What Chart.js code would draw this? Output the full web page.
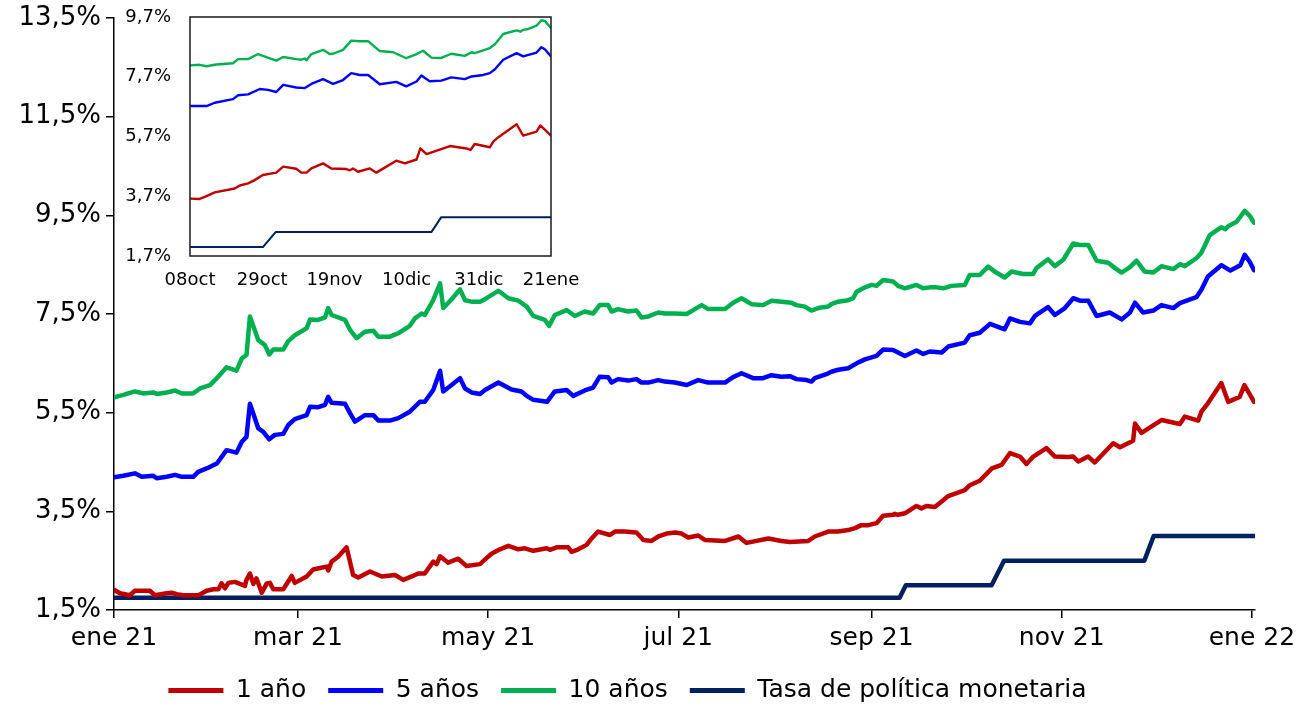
<!DOCTYPE html>
<html>
<head>
<meta charset="utf-8">
<script src="https://cdn.jsdelivr.net/npm/chart.js@4.4.1/dist/chart.umd.min.js"></script>
<style>
  body { margin: 0; background: #fff; }
  #wrap { position: relative; width: 1310px; height: 705px; }
  #main_chart { position: absolute; left: 0; top: 0; }
  #inset_chart { position: absolute; left: 100px; top: 0; }
</style>
</head>
<body>
<div id="wrap">
  <canvas id="main_chart" width="1310" height="705"></canvas>
  <canvas id="inset_chart" width="485" height="300"></canvas>
</div>
<script>
// main chart: x = days since start of axis (ene 21 = 0, ene 22 = 365)
var monthTicks = [0, 59, 120, 181, 243, 304, 365];
var monthLabels = ["ene 21", "mar 21", "may 21", "jul 21", "sep 21", "nov 21", "ene 22"];
var yTicks = [1.5, 3.5, 5.5, 7.5, 9.5, 11.5, 13.5];

var oneYearDays = [0, 1.9, 5.1, 6.7, 9.9, 11.5, 13.1, 16.9, 18.5, 20.1, 22.2, 27.1, 29.7, 31.9, 33.5, 34.5, 35.6, 36.7, 38.8, 40.4,
    42, 42.5, 43.6, 44.7, 45.7, 47.4, 49, 50, 51.1, 54.3, 57, 58, 61.8, 63.9, 66.1, 68.2, 68.7, 69.8, 71.9, 74.6,
    76.7, 78.4, 82.1, 85.9, 90.1, 92.8, 95.5, 97.6, 99.7, 102.4, 103.5, 104.6, 107.2, 110.4, 113.1, 117.4, 119.5, 121.1, 123.8, 126.5,
    129.7, 131.8, 134.5, 138.8, 139.8, 142, 145.7, 146.8, 148.9, 151.6, 153.2, 155.3, 159.1, 160.7, 163.9, 167.6, 169.8, 172.4, 174.6, 177.3,
    180, 182, 184.2, 187.4, 189.5, 196, 200.3, 202.9, 209.9, 214.1, 216.8, 222.7, 224.8, 229.1, 232.3, 235.5, 237.7, 239.7, 242, 244.6,
    246.7, 249.9, 250.5, 251.5, 253.7, 257.4, 259, 260.6, 263.3, 265.5, 267.6, 272.9, 274.5, 277.7, 281.6, 284.7, 287.4, 290.6, 292.7, 294.9,
    299.1, 301.8, 306.1, 307.7, 309.3, 312.5, 314.6, 320.5, 322.7, 326.9, 327.5, 329.6, 336, 341.9, 343.5, 347.8, 348.8, 350.9, 355.2, 357.4,
    361.1, 362.6, 365.7];
var oneYearValues = [1.91, 1.84, 1.80, 1.89, 1.89, 1.89, 1.80, 1.84, 1.85, 1.82, 1.80, 1.80, 1.89, 1.92, 1.92, 2.04, 1.94, 2.05, 2.07, 2.03,
    1.99, 2.11, 2.24, 2.03, 2.14, 1.85, 2.04, 2.05, 1.92, 1.92, 2.19, 2.05, 2.18, 2.32, 2.35, 2.38, 2.30, 2.48, 2.58, 2.77,
    2.21, 2.16, 2.28, 2.18, 2.21, 2.11, 2.18, 2.24, 2.24, 2.48, 2.43, 2.59, 2.46, 2.54, 2.39, 2.43, 2.55, 2.64, 2.73, 2.80,
    2.73, 2.75, 2.70, 2.75, 2.72, 2.77, 2.77, 2.68, 2.73, 2.82, 2.95, 3.09, 3.02, 3.09, 3.09, 3.07, 2.92, 2.90, 2.99, 3.05,
    3.07, 3.05, 2.97, 3.01, 2.92, 2.90, 2.99, 2.86, 2.95, 2.90, 2.88, 2.90, 2.99, 3.09, 3.09, 3.12, 3.16, 3.22, 3.22, 3.26,
    3.41, 3.43, 3.45, 3.43, 3.46, 3.61, 3.56, 3.61, 3.59, 3.70, 3.81, 3.93, 4.03, 4.12, 4.37, 4.44, 4.68, 4.61, 4.46, 4.61,
    4.78, 4.61, 4.60, 4.61, 4.51, 4.61, 4.49, 4.88, 4.80, 4.93, 5.28, 5.09, 5.35, 5.27, 5.42, 5.34, 5.52, 5.69, 6.10, 5.72,
    5.82, 6.06, 5.72];

var fiveYearDays = [0, 3, 6.7, 8.9, 12.6, 13.7, 16.9, 19.6, 21.7, 25.4, 27, 29.7, 33, 36.1, 39.3, 41, 42.5, 43.6, 46.3, 47.9,
    49.8, 51.6, 54.3, 55.9, 58, 61.8, 62.9, 65.5, 67.7, 68.7, 69.8, 74.1, 75.7, 77.3, 80.5, 83.2, 84.8, 88.5, 91.2, 94.9,
    96.5, 98.1, 99.7, 102.4, 104.6, 105.6, 108.3, 111, 112.6, 114.7, 117.4, 119, 123.3, 127.5, 130.7, 132.4, 134.5, 138.9, 141.4, 145.2,
    147.3, 151, 153.7, 155.8, 158.5, 159.6, 161.7, 164.9, 167.6, 169.2, 171.4, 174.6, 176.7, 179.9, 183.7, 187.4, 190.6, 196, 198.6, 201.3,
    205, 208.2, 210.9, 214.1, 216.8, 218.9, 222.2, 223.7, 224.8, 228.5, 230.1, 232.3, 235.5, 238.2, 240.9, 244.6, 246.7, 249.9, 253.7, 257.4,
    259.6, 261.7, 265.5, 267.6, 272.9, 274.5, 277.7, 281, 285.7, 287.4, 290.6, 293.8, 295.4, 299.6, 301.8, 305, 307.7, 309.8, 312.5, 315.2,
    319.4, 323.2, 325.9, 327.5, 330.1, 333.4, 336, 339.8, 341.9, 347.2, 348.8, 350.9, 355.2, 358.1, 361.3, 362.7, 364.3, 365.7];
var fiveYearValues = [4.19, 4.22, 4.27, 4.20, 4.22, 4.17, 4.20, 4.24, 4.20, 4.20, 4.30, 4.37, 4.47, 4.74, 4.69, 4.91, 5.01, 5.68, 5.18, 5.11,
    4.96, 5.05, 5.07, 5.25, 5.37, 5.45, 5.62, 5.61, 5.66, 5.82, 5.70, 5.68, 5.49, 5.32, 5.45, 5.45, 5.34, 5.34, 5.39, 5.52,
    5.62, 5.72, 5.72, 5.96, 6.35, 5.93, 6.06, 6.20, 5.99, 5.91, 5.88, 5.96, 6.11, 5.97, 5.93, 5.84, 5.76, 5.72, 5.93, 5.96,
    5.84, 5.95, 6.01, 6.23, 6.22, 6.11, 6.18, 6.15, 6.18, 6.11, 6.11, 6.16, 6.13, 6.11, 6.06, 6.16, 6.11, 6.11, 6.22, 6.30,
    6.20, 6.20, 6.26, 6.23, 6.24, 6.18, 6.16, 6.13, 6.20, 6.28, 6.33, 6.37, 6.40, 6.50, 6.58, 6.65, 6.78, 6.77, 6.65, 6.76,
    6.69, 6.74, 6.72, 6.84, 6.92, 7.07, 7.12, 7.30, 7.19, 7.41, 7.34, 7.31, 7.46, 7.64, 7.48, 7.62, 7.82, 7.77, 7.77, 7.46,
    7.53, 7.39, 7.53, 7.73, 7.53, 7.57, 7.68, 7.62, 7.72, 7.84, 7.99, 8.26, 8.49, 8.38, 8.49, 8.70, 8.56, 8.39];

var tenYearDays = [0, 3, 6.7, 9.4, 12.6, 13.7, 16.9, 19.6, 21.7, 25.4, 27.6, 30.8, 33, 36.1, 39.3, 41, 42.5, 43.6, 46.3, 48.4,
    49.8, 51.1, 54.3, 55.9, 58, 61.8, 62.9, 65.5, 67.7, 68.7, 69.8, 74.1, 75.7, 77.8, 80.5, 83.2, 84.8, 88.5, 91.2, 94.9,
    96.5, 98.7, 99.7, 102.4, 104.6, 105.6, 108.3, 111, 112.6, 114.7, 117.4, 119, 123.3, 126.5, 129.7, 132.4, 134.5, 138.2, 139.6, 141.4,
    145.2, 147.8, 151, 153.7, 155.8, 158.5, 159.6, 161.7, 164.9, 167.6, 169.2, 171.4, 174.6, 176.7, 179.9, 183.7, 185.8, 188.5, 190.6, 196,
    198.6, 201.3, 204.5, 208.2, 210.9, 214.1, 217.3, 218.9, 221.6, 223.7, 225.9, 229.1, 230.1, 232.3, 235.5, 237.1, 238.2, 240.9, 243, 244.6,
    246.7, 249.9, 251.5, 253.7, 257.4, 259.6, 261.7, 263.8, 266, 268.6, 272.9, 274.5, 277.7, 280.4, 283, 285.7, 287.9, 291.6, 294.8, 295.9,
    299.6, 301.8, 304.5, 307.7, 309.8, 312.5, 315.2, 318.9, 321.1, 323.2, 325.9, 328, 330.6, 333.4, 336, 339.8, 341.9, 343.5, 347.2, 348.8,
    351.5, 355.2, 356.5, 357.4, 360.1, 362.7, 364.3, 365.7];
var tenYearValues = [5.81, 5.86, 5.93, 5.89, 5.91, 5.88, 5.91, 5.95, 5.89, 5.89, 5.99, 6.06, 6.20, 6.42, 6.35, 6.60, 6.67, 7.45, 6.97, 6.87,
    6.68, 6.78, 6.78, 6.95, 7.07, 7.21, 7.39, 7.38, 7.43, 7.62, 7.48, 7.38, 7.18, 7.01, 7.14, 7.16, 7.04, 7.04, 7.11, 7.26,
    7.41, 7.51, 7.48, 7.78, 8.12, 7.62, 7.80, 8.00, 7.78, 7.75, 7.75, 7.80, 7.97, 7.82, 7.77, 7.65, 7.46, 7.38, 7.26, 7.48,
    7.58, 7.46, 7.55, 7.51, 7.68, 7.68, 7.55, 7.60, 7.55, 7.57, 7.43, 7.45, 7.53, 7.51, 7.51, 7.50, 7.58, 7.68, 7.60, 7.60,
    7.73, 7.82, 7.70, 7.68, 7.77, 7.75, 7.73, 7.68, 7.65, 7.57, 7.62, 7.65, 7.70, 7.75, 7.78, 7.82, 7.95, 8.04, 8.09, 8.07,
    8.19, 8.16, 8.07, 8.02, 8.09, 8.02, 8.04, 8.04, 8.02, 8.07, 8.09, 8.29, 8.29, 8.46, 8.34, 8.24, 8.36, 8.31, 8.31, 8.43,
    8.61, 8.47, 8.60, 8.93, 8.90, 8.90, 8.58, 8.54, 8.43, 8.34, 8.45, 8.58, 8.36, 8.34, 8.47, 8.41, 8.51, 8.47, 8.63, 8.74,
    9.10, 9.26, 9.22, 9.28, 9.37, 9.59, 9.49, 9.35];

var tpmDays = [0, 252, 254, 281.5, 285.5, 330.5, 333.5, 366];
var tpmValues = [1.75, 1.75, 2.0, 2.0, 2.5, 2.5, 3.0, 3.0];

// inset: x = days since 08oct
var insetTicks = [0, 21, 42, 63, 84, 105];
var insetLabels = ["08oct", "29oct", "19nov", "10dic", "31dic", "21ene"];
var insetYTicks = [1.7, 3.7, 5.7, 7.7, 9.7];

var insetOneDays = [0, 2.8, 4.3, 7.2, 13, 14.5, 16.9, 18.8, 21.2, 25.1, 27.1, 30.9, 32.4, 33.9, 35.3, 38.7, 41.1, 45.5, 46.5, 47.4,
    48.9, 52.3, 54.2, 60, 62.5, 65.9, 67, 68.8, 75.6, 80.4, 81.6, 82.8, 87.2, 88.2, 89.6, 95, 96.9, 100.8, 101.9, 105];
var insetOneValues = [3.62, 3.61, 3.68, 3.83, 3.96, 4.06, 4.13, 4.24, 4.41, 4.49, 4.69, 4.62, 4.49, 4.49, 4.63, 4.80, 4.63, 4.61, 4.57, 4.63,
    4.52, 4.63, 4.49, 4.89, 4.80, 4.93, 5.30, 5.11, 5.38, 5.30, 5.25, 5.45, 5.34, 5.53, 5.67, 6.11, 5.73, 5.86, 6.07, 5.73];

var insetFiveDays = [0, 2.8, 4.8, 7.2, 12.5, 14, 16.9, 20.3, 22.7, 25.1, 27.1, 30.9, 33.4, 35.3, 38.7, 41.6, 44.5, 46.9, 49.4, 51.8,
    55.2, 60, 62.9, 65.9, 67.3, 69.7, 73.1, 76, 79.9, 81.9, 85.3, 87.2, 88.7, 91.1, 95, 96.9, 100.8, 102.2, 103.2, 105];
var insetFiveValues = [6.72, 6.72, 6.72, 6.83, 6.95, 7.08, 7.11, 7.29, 7.26, 7.19, 7.43, 7.34, 7.32, 7.46, 7.62, 7.46, 7.59, 7.82, 7.76, 7.76,
    7.45, 7.53, 7.38, 7.54, 7.74, 7.55, 7.57, 7.68, 7.62, 7.71, 7.76, 7.82, 7.95, 8.27, 8.49, 8.38, 8.51, 8.69, 8.62, 8.38];

var insetTenDays = [0, 2.8, 4.8, 7.7, 12.5, 14, 16.9, 19.8, 22.2, 25.1, 27.1, 30.9, 32.4, 33.4, 33.9, 35.3, 38.7, 40.6, 41.6, 44.5,
    46.9, 49.4, 51.8, 55.2, 59.1, 62.9, 65.9, 67.8, 70.2, 73.1, 76, 79.9, 81.9, 82.8, 85.3, 87.2, 88.7, 91.1, 95, 96.1,
    96.9, 98.4, 100.8, 102.2, 103.2, 105];
var insetTenValues = [8.08, 8.10, 8.05, 8.11, 8.15, 8.29, 8.29, 8.46, 8.36, 8.24, 8.36, 8.29, 8.27, 8.31, 8.25, 8.46, 8.60, 8.46, 8.47, 8.60,
    8.91, 8.89, 8.89, 8.56, 8.52, 8.32, 8.46, 8.57, 8.34, 8.33, 8.47, 8.40, 8.52, 8.49, 8.58, 8.66, 8.79, 9.13, 9.25, 9.21,
    9.27, 9.30, 9.41, 9.59, 9.57, 9.33];

var insetTpmDays = [0, 21.2, 24.9, 70.2, 73.1, 105];
var insetTpmValues = [2.0, 2.0, 2.5, 2.5, 3.0, 3.0];

var RED = "#C00000", BLUE = "#0000FF", GREEN = "#00B050", NAVY = "#002060";

function toPoints(xs, ys) {
    return xs.map(function (x, i) { return {x: x, y: ys[i]}; });
}

function pct(v) {
    return v.toFixed(1).replace(".", ",") + "%";
}

function lineSet(label, xs, ys, color, width) {
    return {
        label: label,
        data: toPoints(xs, ys),
        borderColor: color,
        backgroundColor: color,
        borderWidth: width,
        pointRadius: 0,
        tension: 0,
        borderJoinStyle: "round",
        borderCapStyle: "round"
    };
}

// keep label overhang from pushing the plot area around, layout.padding decides
function noPadX(axis) { axis.paddingLeft = 0; axis.paddingRight = 0; }
function noPadY(axis) { axis.paddingTop = 0; axis.paddingBottom = 0; }

var mainFont = {family: "DejaVu Sans", size: 25};
var yFont = {family: "DejaVu Sans", size: 26};

var chart = new Chart(document.getElementById("main_chart").getContext("2d"), {
    type: "line",
    data: {
        datasets: [
            lineSet("1 año", oneYearDays, oneYearValues, RED, 4.5),
            lineSet("5 años", fiveYearDays, fiveYearValues, BLUE, 4.5),
            lineSet("10 años", tenYearDays, tenYearValues, GREEN, 4.5),
            lineSet("Tasa de política monetaria", tpmDays, tpmValues, NAVY, 4.5)
        ]
    },
    options: {
        responsive: false,
        animation: false,
        devicePixelRatio: 1,
        layout: {padding: {left: 0, right: 55, top: 18, bottom: -8}},
        scales: {
            x: {
                type: "linear",
                min: 0,
                max: 366,
                afterBuildTicks: function (axis) {
                    axis.ticks = monthTicks.map(function (v) { return {value: v}; });
                },
                afterFit: function (axis) { axis.height = 46; noPadX(axis); },
                ticks: {
                    callback: function (v) { return monthLabels[monthTicks.indexOf(v)]; },
                    autoSkip: false,
                    maxRotation: 0,
                    padding: 5,
                    color: "#000",
                    font: mainFont
                },
                grid: {drawOnChartArea: false, drawTicks: true, tickLength: 8, color: "#000", lineWidth: 1.5},
                border: {display: true, color: "#000", width: 1.5}
            },
            y: {
                min: 1.5,
                max: 13.5,
                afterBuildTicks: function (axis) {
                    axis.ticks = yTicks.map(function (v) { return {value: v}; });
                },
                afterFit: function (axis) { axis.width = 114; noPadY(axis); },
                ticks: {
                    callback: function (v) { return pct(v); },
                    padding: 5,
                    color: "#000",
                    font: yFont
                },
                grid: {drawOnChartArea: false, drawTicks: true, tickLength: 8, color: "#000", lineWidth: 1.5},
                border: {display: true, color: "#000", width: 1.5}
            }
        },
        plugins: {
            legend: {
                position: "bottom",
                labels: {
                    boxWidth: 55,
                    boxHeight: 5,
                    padding: 22,
                    color: "#000",
                    font: mainFont,
                    generateLabels: function (c) {
                        return Chart.defaults.plugins.legend.labels.generateLabels(c).map(function (item) {
                            item.lineWidth = 0;
                            return item;
                        });
                    }
                }
            },
            tooltip: {enabled: false}
        }
    }
});

// thin frame round the inset plot area
var insetFrame = {
    id: "insetFrame",
    afterDraw: function (c) {
        var a = c.chartArea, ctx = c.ctx;
        ctx.save();
        ctx.strokeStyle = "#1a1a1a";
        ctx.lineWidth = 1.5;
        ctx.strokeRect(a.left, a.top, a.right - a.left, a.bottom - a.top);
        ctx.restore();
    }
};

var insetFont = {family: "DejaVu Sans", size: 18};

var inset = new Chart(document.getElementById("inset_chart").getContext("2d"), {
    type: "line",
    data: {
        datasets: [
            lineSet("1 año", insetOneDays, insetOneValues, RED, 2.4),
            lineSet("5 años", insetFiveDays, insetFiveValues, BLUE, 2.4),
            lineSet("10 años", insetTenDays, insetTenValues, GREEN, 2.4),
            lineSet("TPM", insetTpmDays, insetTpmValues, NAVY, 2)
        ]
    },
    options: {
        responsive: false,
        animation: false,
        devicePixelRatio: 1,
        layout: {padding: {left: 0, right: 34, top: 17, bottom: 0}},
        scales: {
            x: {
                type: "linear",
                min: 0,
                max: 105,
                afterBuildTicks: function (axis) {
                    axis.ticks = insetTicks.map(function (v) { return {value: v}; });
                },
                afterFit: function (axis) { axis.height = 44; noPadX(axis); },
                ticks: {
                    callback: function (v) { return insetLabels[insetTicks.indexOf(v)]; },
                    autoSkip: false,
                    maxRotation: 0,
                    padding: 6,
                    color: "#000",
                    font: insetFont
                },
                grid: {display: false},
                border: {display: false}
            },
            y: {
                min: 1.7,
                max: 9.7,
                afterBuildTicks: function (axis) {
                    axis.ticks = insetYTicks.map(function (v) { return {value: v}; });
                },
                afterFit: function (axis) { axis.width = 90; noPadY(axis); },
                ticks: {
                    callback: function (v) { return pct(v); },
                    padding: 11,
                    color: "#000",
                    font: insetFont
                },
                grid: {display: false},
                border: {display: false}
            }
        },
        plugins: {
            legend: {display: false},
            tooltip: {enabled: false}
        }
    },
    plugins: [insetFrame]
});
</script>
</body>
</html>
